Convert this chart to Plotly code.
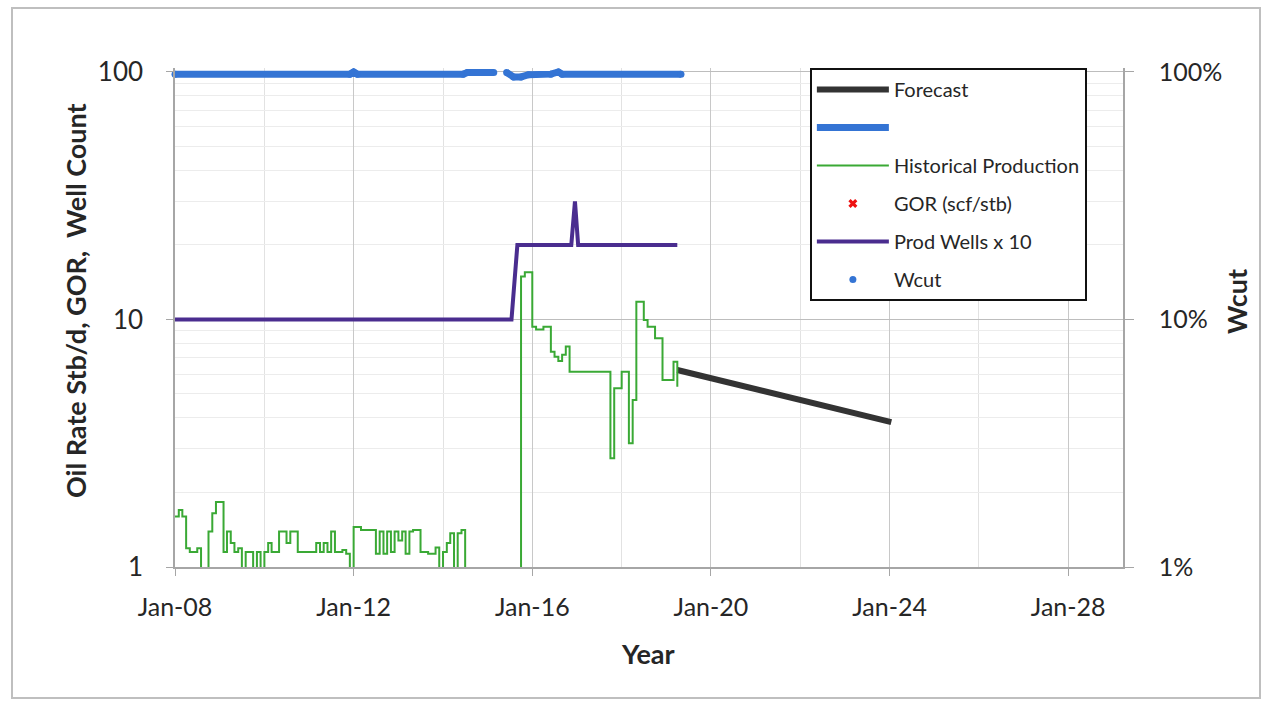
import pandas as pd
import plotly.graph_objects as go

# ---------------- data ----------------
# Historical oil production (Stb/d), monthly from Jan-2008; 0.5 = below chart floor
hist_start = "2008-01-01"
hist_rate = [
    1.6, 1.7, 1.6, 1.19, 1.15, 1.15, 1.19, 0.5, 0.5, 1.39,
    1.65, 1.83, 1.83, 1.15, 1.39, 1.25, 1.15, 1.19, 0.5, 1.15,
    1.15, 0.5, 1.15, 0.5, 1.15, 1.25, 1.15, 1.15, 1.39, 1.39,
    1.25, 1.39, 1.39, 1.15, 1.15, 1.15, 1.15, 1.15, 1.25, 1.15,
    1.25, 1.15, 1.39, 1.15, 1.15, 1.17, 1.13, 0.5, 1.45, 1.45,
    1.41, 1.41, 1.41, 1.41, 1.13, 1.39, 1.13, 1.39, 1.15, 1.39,
    1.28, 1.39, 1.13, 1.39, 1.41, 1.41, 1.15, 1.15, 1.13, 1.13,
    1.2, 0.5, 1.15, 1.25, 1.37, 0.5, 1.37, 1.41, 0.5, 0.5,
    0.5, 0.5, 0.5, 0.5, 0.5, 0.5, 0.5, 0.5, 0.5, 0.5,
    0.5, 0.5, 0.5, 14.9, 15.5, 15.5, 9.35, 9.1, 9.1, 9.35,
    9.35, 7.4, 7.07, 6.8, 7.2, 7.77, 6.15, 6.15, 6.15, 6.15,
    6.15, 6.15, 6.15, 6.15, 6.15, 6.15, 6.15, 2.75, 5.27, 5.27,
    6.15, 6.15, 3.16, 4.73, 11.8, 11.8, 9.96, 9.35, 9.35, 8.4,
    8.4, 5.7, 5.7, 5.7, 6.75, 5.35,
]
hist_dates = pd.date_range(hist_start, periods=len(hist_rate), freq="MS")

forecast_dates = ["2019-04-01", "2024-01-15"]
forecast_rate = [6.25, 3.85]

wells_dates = ["2008-01-01", "2015-07-15", "2015-09-01", "2016-11-15",
               "2016-12-15", "2017-01-10", "2019-04-01"]
wells_x10 = [10, 10, 20, 20, 30, 20, 20]

wcut_dates = ["2008-01-01", "2011-12-01", "2012-01-01", "2012-02-01",
              "2014-06-15", "2014-07-20", "2015-02-20", None,
              "2015-06-05", "2015-08-01", "2015-10-01", "2015-12-01",
              "2016-06-01", "2016-08-01", "2016-09-01", "2019-05-01"]
wcut = [0.98, 0.98, 1.0, 0.98,
        0.98, 0.995, 0.995, None,
        0.995, 0.955, 0.955, 0.975,
        0.98, 1.0, 0.98, 0.98]

x_tick_start = "2008-01-01"
x_range = ["2008-01-01", "2029-03-24"]
left_ticks = [1, 10, 100]
left_tick_text = ["1", "10", "100"]
right_ticks = [0.01, 0.1, 1]
right_tick_text = ["1%", "10%", "100%"]

# ---------------- styling ----------------
FONT = "Lato"
TXT = "#262626"
BLUE = "#3474d4"
GREEN = "#3aa935"
PURPLE = "#4a2d8f"
FCST = "#333333"

fig = go.Figure()

fig.add_trace(go.Scatter(
    x=forecast_dates, y=forecast_rate, name="Forecast", mode="lines",
    line=dict(color=FCST, width=6), legendgroup="a"))
fig.add_trace(go.Scatter(
    x=wcut_dates, y=wcut, name=" ", mode="lines", yaxis="y2",
    line=dict(color=BLUE, width=7), legendgroup="b", connectgaps=False))
fig.add_trace(go.Scatter(
    x=hist_dates, y=hist_rate, name="Historical Production", mode="lines",
    line=dict(color=GREEN, width=2, shape="hv"), legendgroup="c"))
fig.add_trace(go.Scatter(
    x=[None], y=[None], name="GOR (scf/stb)", mode="markers",
    marker=dict(color="#ee1111", symbol="x", size=8), legendgroup="d"))
fig.add_trace(go.Scatter(
    x=wells_dates, y=wells_x10, name="Prod Wells x 10", mode="lines",
    line=dict(color=PURPLE, width=4), legendgroup="e"))
fig.add_trace(go.Scatter(
    x=wcut_dates, y=wcut, name="Wcut", mode="markers", yaxis="y2",
    marker=dict(color=BLUE, size=7), legendgroup="f", cliponaxis=False))

fig.update_layout(
    width=1263, height=702,
    margin=dict(l=175, r=140, t=68, b=135, pad=0),
    paper_bgcolor="white", plot_bgcolor="white",
    font=dict(family=FONT, color=TXT),
    showlegend=True,
    legend=dict(
        x=0.6697, y=1.0, xanchor="left", yanchor="top",
        bgcolor="white", bordercolor="#111111", borderwidth=2,
        font=dict(family=FONT, size=20, color=TXT),
        traceorder="grouped", tracegroupgap=9, itemwidth=72,
    ),
    xaxis=dict(
        type="date", range=x_range, tick0=x_tick_start, dtick="M48",
        tickformat="%b-%y", tickfont=dict(size=25, family=FONT, color=TXT),
        showgrid=True, gridcolor="#c8c8c8", gridwidth=1,
        showline=True, linecolor="#a6a6a6", linewidth=1.5,
        ticks="outside", ticklen=7, tickcolor="#a6a6a6",
        ticklabelstandoff=10,
        minor=dict(dtick="M24", tick0=x_tick_start, showgrid=True,
                   gridcolor="#e2e2e2", gridwidth=1),
        zeroline=False,
    ),
    yaxis=dict(
        type="log", range=[0, 2.016], tickvals=left_ticks, ticktext=left_tick_text,
        tickfont=dict(size=26, family=FONT, color=TXT),
        showgrid=True, gridcolor="#bdbdbd", gridwidth=1,
        showline=True, linecolor="#a6a6a6", linewidth=1.5,
        ticks="outside", ticklen=7, tickcolor="#a6a6a6",
        ticklabelstandoff=18,
        minor=dict(dtick="D1", showgrid=True, gridcolor="#ececec", gridwidth=1),
        zeroline=False,
    ),
    yaxis2=dict(
        type="log", range=[-2, 0.016], tickvals=right_ticks, ticktext=right_tick_text,
        overlaying="y", side="right",
        tickfont=dict(size=25, family=FONT, color=TXT),
        showgrid=False,
        showline=True, linecolor="#a6a6a6", linewidth=1.5,
        ticks="outside", ticklen=9, tickcolor="#a6a6a6",
        ticklabelstandoff=20,
        zeroline=False,
    ),
    annotations=[
        dict(text="<b>Oil Rate Stb/d, GOR,  Well Count</b>", xref="paper", yref="paper",
             x=(75 - 175) / 948, y=(567 - 301) / 499, textangle=-90, showarrow=False,
             font=dict(size=27, family=FONT, color=TXT), xanchor="center", yanchor="middle"),
        dict(text="<b>Year</b>", xref="paper", yref="paper",
             x=(648 - 175) / 948, y=(567 - 653) / 499, showarrow=False,
             font=dict(size=27, family=FONT, color=TXT), xanchor="center", yanchor="middle"),
        dict(text="<b>Wcut</b>", xref="paper", yref="paper",
             x=(1236 - 175) / 948, y=(567 - 302) / 499, textangle=-90, showarrow=False,
             font=dict(size=27, family=FONT, color=TXT), xanchor="center", yanchor="middle"),
    ],
    shapes=[
        dict(type="rect", xref="paper", yref="paper",
             x0=(12 - 175) / 948, x1=(1260 - 175) / 948,
             y0=(567 - 698) / 499, y1=(567 - 8) / 499,
             line=dict(color="#bfbfbf", width=2), layer="below"),
    ],
)

fig.write_html("out.html", config={"displayModeBar": False},
               post_script="document.body.style.margin='0';")
